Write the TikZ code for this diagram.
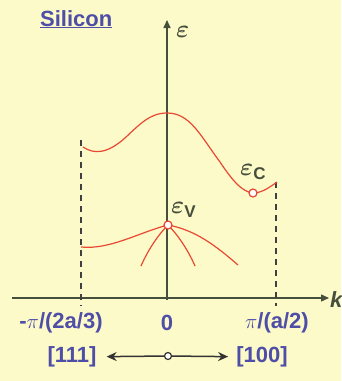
\documentclass[tikz,border=0pt]{standalone}
\usepackage{fontspec}
\usepackage{bm}
\setmainfont{Liberation Sans}
\usetikzlibrary{arrows.meta}
\definecolor{bg}{RGB}{252,250,200}
\definecolor{lbl}{RGB}{78,78,168}
\definecolor{axc}{RGB}{70,78,60}
\definecolor{band}{RGB}{232,72,52}
\newcommand{\eps}{\scalebox{2.5}{$\bm{\varepsilon}$}}
\tikzset{
  lab/.style={font=\fontsize{22}{24}\selectfont\bfseries, text=lbl, inner sep=0pt},
  axisline/.style={draw=axc, line width=1.4pt, -{Triangle[length=8pt,width=7pt]}},
  zoneline/.style={draw=black!75, line width=1.3pt, dash pattern=on 6pt off 5pt},
  bandline/.style={draw=band, line width=1.2pt},
  pt/.style={circle, draw=band, fill=white, line width=1.2pt, inner sep=0pt, minimum size=8pt},
  dirarrow/.style={draw=black!80, line width=1.5pt, -{Stealth[length=10pt,width=9pt]}}
}
\begin{document}
\begin{tikzpicture}[x=1pt,y=-1pt]
\fill[bg] (0,0) rectangle (341,381);
\useasboundingbox (0,0) rectangle (341,381);
% title
\node[lab, anchor=base west] (title) at (40,26) {\underline{Silicon}};
% axes
\coordinate (kstart) at (12,298);
\coordinate (kend) at (329,298);
\coordinate (estart) at (167,300);
\coordinate (eend) at (167,20);
\draw[axisline] (estart) -- (eend);
\draw[axisline] (kstart) -- (kend);
\node[anchor=base west, inner sep=0pt, text=axc] (elab) at (176,37) {\eps};
\node[lab, anchor=west, text=axc] (klab) at (330,300) {\itshape k};
% zone boundaries
\coordinate (lz1) at (81,140); \coordinate (lz2) at (81,306);
\coordinate (rz1) at (276,182); \coordinate (rz2) at (276,306);
\draw[zoneline] (lz1) -- (lz2);
\draw[zoneline] (rz1) -- (rz2);
% conduction band
\draw[bandline] (83,147) .. controls (95,155) and (108,153) .. (125,138)
  .. controls (140,124) and (150,113) .. (167,113)
  .. controls (190,113) and (200,135) .. (220,162)
  .. controls (232,180) and (242,192) .. (253,193)
  .. controls (262,193) and (270,187) .. (277,182);
% valence bands
\coordinate (vl) at (81,247);
\coordinate (vr) at (238,265);
\coordinate (vsl) at (141,266);
\coordinate (vsr) at (195,266);
\draw[bandline] (vl) .. controls (110,250) and (140,232) .. (168,225);
\draw[bandline] (168,225) .. controls (195,230) and (215,245) .. (vr);
\draw[bandline] (168,225) .. controls (158,235) and (148,250) .. (vsl);
\draw[bandline] (168,225) .. controls (178,235) and (188,250) .. (vsr);
\node[pt] (ev) at (168,225) {};
\node[pt] (ec) at (253,193) {};
\node[anchor=base west, inner sep=0pt, text=axc] (evlab) at (171,213) {\eps\raisebox{-4pt}{\fontsize{17}{18}\selectfont\bfseries V}};
\node[anchor=base west, inner sep=0pt, text=axc] (eclab) at (240,175) {\eps\raisebox{-4pt}{\fontsize{17}{18}\selectfont\bfseries C}};
% k labels
\node[lab] (kl) at (61,323) {-$\pi$/(2a/3)};
\node[lab] (k0) at (167,323) {0};
\node[lab] (kr) at (277,323) {$\pi$/(a/2)};
% directions
\node[lab] (d111) at (72,357) {[111]};
\node[lab] (d100) at (262,357) {[100]};
\node[circle, draw=black!80, line width=1.2pt, fill=white, inner sep=0pt, minimum size=7pt] (org) at (168,356) {};
\draw[dirarrow, shorten >=10pt] (org) -- (d111);
\draw[dirarrow, shorten >=8pt] (org) -- (d100);
\end{tikzpicture}
\end{document}
